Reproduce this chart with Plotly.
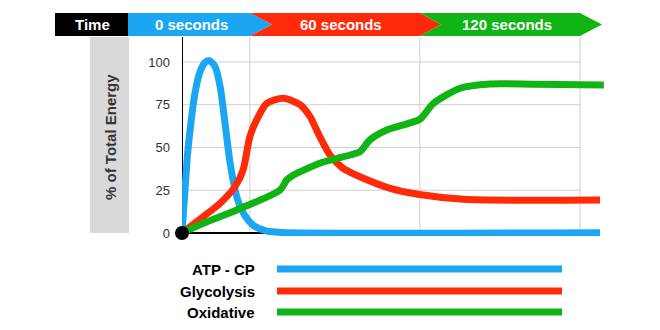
import plotly.graph_objects as go

# ---------------- data ----------------
time_labels = ["Time", "0 seconds", "60 seconds", "120 seconds"]
series_names = ["ATP - CP", "Glycolysis", "Oxidative"]
y_ticks = [0, 25, 50, 75, 100]
x_grid = [16.0, 56.1, 93.9]

atp_x = [0, 0.7, 1.25, 1.9, 3.05, 4.25, 5.4, 6.45, 7.8, 9.0, 10.15, 11.35, 13.0, 14.8, 16.9, 19.8, 23.5, 98.6]
atp_y = [0, 25, 44.6, 60.2, 81.7, 94.3, 99.6, 100.8, 97.3, 85.6, 64.1, 40.9, 20.5, 10.3, 4.3, 1.2, 0.3, 0.2]

gly_x = [0, 5.0, 9.0, 12.5, 14.4, 16.0, 17.6, 20.0, 23.9, 27.9, 30.2, 32.5, 34.9, 38.0, 42.8, 49.1, 56.0, 66.4, 98.6]
gly_y = [0, 9.5, 17.4, 27.1, 36.8, 56.3, 66.1, 75.8, 78.8, 74.9, 68.0, 56.3, 45.6, 37.8, 32.0, 26.1, 22.5, 19.7, 19.3]

oxi_x = [0, 5.0, 12.9, 23.1, 24.7, 26.3, 32.5, 39.6, 42.0, 44.3, 48.3, 51.4, 56.1, 59.3, 65.6, 72.6, 82.9, 99.5]
oxi_y = [0, 5.7, 13.5, 25.1, 31.0, 33.9, 40.8, 45.6, 47.6, 54.4, 60.2, 62.6, 66.5, 75.8, 84.6, 87.1, 87.0, 86.5]

# ---------------- style ----------------
BLUE = "#1aa6f3"
RED = "#ff2a0a"
GREEN = "#10b414"
colors = [BLUE, RED, GREEN]
FONT = "Liberation Sans, Arial, sans-serif"

W, H = 660, 330
L, R, T, B = 182, 606, 37, 236


def pxx(px):
    return (px - L) / (R - L)


def pxy(py):
    return (B - py) / (B - T)


fig = go.Figure()
for name, xs, ys, c in zip(series_names, [atp_x, gly_x, oxi_x], [atp_y, gly_y, oxi_y], colors):
    fig.add_trace(go.Scatter(x=xs, y=ys, mode="lines", name=name,
                             line=dict(color=c, width=7, shape="spline", smoothing=0.7),
                             showlegend=False, hoverinfo="skip"))

# origin dot
fig.add_trace(go.Scatter(x=[0], y=[0], mode="markers", marker=dict(color="black", size=14),
                         cliponaxis=False, showlegend=False, hoverinfo="skip"))

shapes = []
# gridlines
for yv in y_ticks[1:]:
    shapes.append(dict(type="line", xref="x", yref="y", x0=0, x1=x_grid[-1], y0=yv, y1=yv,
                       line=dict(color="#cfcfcf", width=1), layer="below"))
for xv in x_grid:
    shapes.append(dict(type="line", xref="x", yref="y", x0=xv, x1=xv, y0=0, y1=114.6,
                       line=dict(color="#cfcfcf", width=1), layer="below"))
# axes
shapes.append(dict(type="line", xref="x", yref="y", x0=0, x1=x_grid[-1], y0=0, y1=0,
                   line=dict(color="black", width=2), layer="below"))
shapes.append(dict(type="line", xref="x", yref="y", x0=0, x1=0, y0=0, y1=114.6,
                   line=dict(color="black", width=2), layer="below"))

# gray title box
shapes.append(dict(type="rect", xref="paper", yref="paper", x0=pxx(90), x1=pxx(129),
                   y0=pxy(233), y1=pxy(37), fillcolor="#d9d9d9", line=dict(width=0), layer="below"))


def poly(pts, color):
    path = "M " + " L ".join(f"{pxx(a)},{pxy(b)}" for a, b in pts) + " Z"
    return dict(type="path", xref="paper", yref="paper", path=path, fillcolor=color,
                line=dict(width=0), layer="above")


top, mid, bot = 13, 24.5, 36
shapes.append(poly([(55, top), (128, top), (128, bot), (55, bot)], "black"))
shapes.append(poly([(128, top), (250, top), (272, mid), (250, bot), (128, bot)], BLUE))
shapes.append(poly([(250, top), (420, top), (441, mid), (420, bot), (250, bot), (272, mid)], RED))
shapes.append(poly([(420, top), (580, top), (602, mid), (580, bot), (420, bot), (441, mid)], GREEN))

# legend lines
leg_y = [269, 291, 312]
for c, ly in zip(colors, leg_y):
    shapes.append(dict(type="line", xref="paper", yref="paper", x0=pxx(277), x1=pxx(562),
                       y0=pxy(ly), y1=pxy(ly), line=dict(color=c, width=7)))

annotations = []
banner_centers = [92, 191, 341, 507]
for lab, cx in zip(time_labels, banner_centers):
    annotations.append(dict(xref="paper", yref="paper", x=pxx(cx), y=pxy(mid), text=f"<b>{lab}</b>",
                            showarrow=False, xanchor="center", yanchor="middle",
                            font=dict(family=FONT, size=15, color="white")))
for name, ly in zip(series_names, leg_y):
    annotations.append(dict(xref="paper", yref="paper", x=pxx(257), y=pxy(ly), text=f"<b>{name}</b>",
                            showarrow=False, xanchor="right", yanchor="middle",
                            font=dict(family=FONT, size=15, color="black")))
annotations.append(dict(xref="paper", yref="paper", x=pxx(110), y=pxy(137),
                        text="<b>% of Total Energy</b>", textangle=-90, showarrow=False,
                        xanchor="center", yanchor="middle",
                        font=dict(family=FONT, size=15, color="#333333")))

fig.update_layout(
    width=W, height=H,
    margin=dict(l=L, r=W - R, t=T, b=H - B),
    paper_bgcolor="white", plot_bgcolor="white",
    shapes=shapes, annotations=annotations,
    xaxis=dict(range=[0, 100], showgrid=False, zeroline=False, showticklabels=False,
               showline=False, fixedrange=True),
    yaxis=dict(range=[-1.75, 114.6], showgrid=False, zeroline=False, showline=False,
               tickvals=y_ticks, ticktext=[str(v) for v in y_ticks],
               tickfont=dict(family=FONT, size=13, color="#333333"),
               ticks="", ticklabelstandoff=11, fixedrange=True),
)

fig.write_html("out.html")
